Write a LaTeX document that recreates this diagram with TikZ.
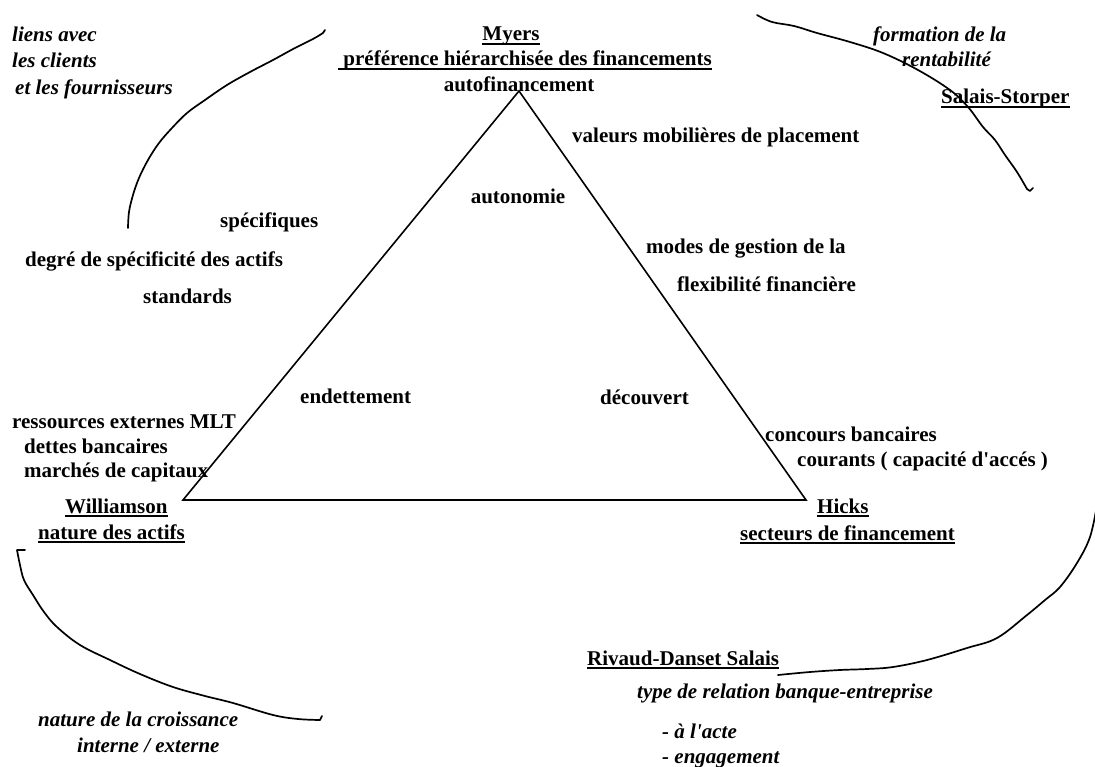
\documentclass[tikz,border=0pt]{standalone}
\usepackage{fontspec}
\setmainfont{Liberation Serif}
% underline at a fixed depth below the baseline
\newcommand\ulbox[1]{\setbox0\hbox{#1}\rlap{\rule[-3.6pt]{\wd0}{1.7pt}}\box0}
\begin{document}
\begin{tikzpicture}[x=1pt,y=-1pt,
  lbl/.style={inner sep=0pt, font=\fontsize{21}{25}\selectfont\bfseries},
  lblit/.style={inner sep=0pt, font=\fontsize{21}{25}\selectfont\bfseries\itshape},
  frame/.style={line width=1.6pt, line join=miter},
  sketch/.style={line width=1.7pt, line cap=round, line join=round}]
\useasboundingbox (0,0) rectangle (1095,767);

% the triangle of financing poles
\coordinate (top) at (519,91);
\coordinate (bl) at (183,500);
\coordinate (br) at (806,500);
\draw[frame] (top) -- (bl) -- (br) -- cycle;

% hand-drawn arcs around the triangle
\draw[sketch] plot[smooth, tension=0.6] coordinates {(128,228) (129,212) (133,195) (139,178) (148,160) (159,143) (172,128) (187,113) (205,100) (227,85) (250,72) (273,60) (295,48) (313,39) (323,33)} -- (325,30);
\draw[sketch] plot[smooth, tension=0.6] coordinates {(757,15) (772,22) (794,26) (817,33) (850,42) (883,53) (918,70) (950,90) (968,107) (983,127) (995,140) (1005,155) (1017,172) (1027,189)} -- (1030,191) -- (1033,188);
\draw[sketch] plot[smooth, tension=0.6] coordinates {(778,675) (810,672) (840,670) (867,669) (893,667) (927,660) (967,648) (997,638) (1027,615) (1045,600) (1060,587) (1077,563) (1090,537) (1097,505)};
\draw[sketch] (25,550) -- (17,550) plot[smooth, tension=0.6] coordinates {(17,550) (20,565) (24,580) (33,595) (44,612) (57,627) (80,645) (110,660) (140,674) (173,687) (205,696) (233,703) (273,715) (298,719) (320,720)} -- (322,716);

% top pole
\node[lbl, anchor=base] (myers) at (511,41) {\ulbox{Myers}};
\node[lbl, anchor=base west] (pref) at (338,66) {\ulbox{\ préférence hiérarchisée des financements}};
\node[lbl, anchor=base] (autof) at (519,92) {autofinancement};
\node[lbl, anchor=base west] (vmp) at (572,143) {valeurs mobilières de placement};
\node[lbl, anchor=base] (auton) at (518,204) {autonomie};

% top-right
\node[lblit, anchor=base west] (form1) at (873,42) {formation de la};
\node[lblit, anchor=base west] (form2) at (902,67) {rentabilité};
\node[lbl, anchor=base west] (salais) at (941,104) {\ulbox{Salais-Storper}};

% top-left
\node[lblit, anchor=base west] (liens1) at (12,42) {liens avec};
\node[lblit, anchor=base west] (liens2) at (12,68) {les clients};
\node[lblit, anchor=base west] (liens3) at (15,95) {et les fournisseurs};

% asset specificity
\node[lbl, anchor=base west] (spec) at (220,228) {spécifiques};
\node[lbl, anchor=base west] (degre) at (25,267) {degré de spécificité des actifs};
\node[lbl, anchor=base west] (stand) at (143,304) {standards};

% flexibility
\node[lbl, anchor=base west] (modes) at (646,254) {modes de gestion de la};
\node[lbl, anchor=base west] (flex) at (677,292) {flexibilité financière};

% inner labels
\node[lbl, anchor=base west] (endet) at (300,403) {endettement};
\node[lbl, anchor=base west] (decouv) at (600,404) {découvert};

% bottom-left pole
\node[lbl, anchor=base west] (ress) at (12,428) {ressources externes MLT};
\node[lbl, anchor=base west] (dettes) at (24,453) {dettes bancaires};
\node[lbl, anchor=base west] (march) at (24,477) {marchés de capitaux};
\node[lbl, anchor=base west] (will) at (65,513) {\ulbox{Williamson}};
\node[lbl, anchor=base west] (natact) at (38,539) {\ulbox{nature des actifs}};

% bottom-right pole
\node[lbl, anchor=base west] (conc) at (765,441) {concours bancaires};
\node[lbl, anchor=base west] (cour) at (797,466) {courants ( capacité d\textquotesingle accés )};
\node[lbl, anchor=base west] (hicks) at (817,513) {\ulbox{Hicks}};
\node[lbl, anchor=base west] (sect) at (740,540) {\ulbox{secteurs de financement}};

% bottom-left growth
\node[lblit, anchor=base west] (crois1) at (38,726) {nature de la croissance};
\node[lblit, anchor=base west] (crois2) at (77,752) {interne / externe};

% bank-firm relation
\node[lbl, anchor=base west] (rivaud) at (587,665) {\ulbox{Rivaud-Danset Salais}};
\node[lblit, anchor=base west] (type) at (637,698) {type de relation banque-entreprise};
\node[lblit, anchor=base west] (acte) at (662,738) {- à l\textquotesingle acte};
\node[lblit, anchor=base west] (engag) at (662,763) {- engagement};
\end{tikzpicture}
\end{document}
